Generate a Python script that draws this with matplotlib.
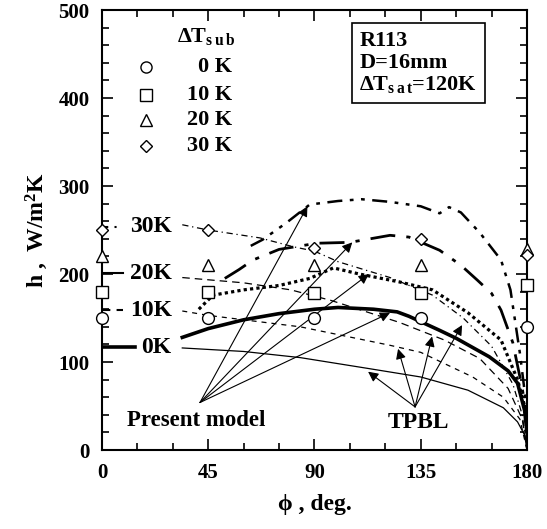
import matplotlib.pyplot as plt
from matplotlib.ticker import MultipleLocator

plt.rcParams['font.family'] = ['Liberation Serif', 'DejaVu Serif']
plt.rcParams['font.weight'] = 'bold'
plt.rcParams['axes.labelweight'] = 'bold'
plt.rcParams['mathtext.fontset'] = 'custom'
plt.rcParams['mathtext.rm'] = 'Liberation Serif:bold'
plt.rcParams['mathtext.it'] = 'Liberation Serif:bold'
plt.rcParams['mathtext.bf'] = 'Liberation Serif:bold'

# experimental points
phi_exp = [0, 45, 90, 135, 180]
h_exp_0 = [150, 150, 150, 150, 140]
h_exp_10 = [180, 180, 178, 178, 188]
h_exp_20 = [220, 210, 210, 210, 228]
h_exp_30 = [250, 250, 230, 240, 222]

# present model
pm0_phi = [34, 45, 60, 75, 90, 100, 115, 125, 130, 143, 150, 164, 172, 176, 179, 180]
pm0_h = [128, 138, 148, 155, 160, 162, 160, 157, 152, 136, 127, 106, 90, 76, 45, 20]
pm10_phi = [41, 47, 60, 75, 88, 98, 109, 126, 140, 155, 169, 176, 179, 180]
pm10_h = [160, 176, 182, 187, 195, 207, 200, 191, 182, 156, 125, 80, 50, 30]
pm20_phi = [52, 58, 64, 75, 91, 105, 122, 130, 143, 152, 159, 165, 169, 174, 178, 180]
pm20_h = [195, 205, 216, 228, 235, 236, 244, 242, 227, 210, 193, 178, 159, 122, 70, 35]
pm30_phi = [63, 68, 78, 88, 100, 110, 122, 135, 143, 147, 152, 160, 169, 173, 177, 180]
pm30_h = [232, 239, 258, 279, 283, 285, 282, 277, 269, 276, 270, 247, 216, 182, 110, 45]

# TPBL
tp0_phi = [34, 60, 84, 112, 135, 155, 170, 176, 179, 180]
tp0_h = [116, 112, 105, 93, 83, 68, 48, 32, 17, 0]
tp10_phi = [34, 45, 84, 122, 135, 157, 170, 177, 180]
tp10_h = [158, 153, 140, 119, 111, 83, 60, 35, 0]
tp20_phi = [34, 60, 80, 97, 126, 145, 160, 172, 178, 180]
tp20_h = [196, 190, 182, 170, 145, 125, 104, 70, 35, 0]
tp30_phi = [34, 45, 67, 81, 90, 100, 122, 140, 153, 165, 174, 178, 180]
tp30_h = [256, 250, 241, 231, 226, 214, 196, 176, 150, 118, 75, 40, 0]

legend_labels = ['0 K', '10 K', '20 K', '30 K']
curve_labels = ['0K', '10K', '20K', '30K']
label_h = [117, 159, 201, 254]

fig = plt.figure(figsize=(5.47, 5.29), dpi=100)
ax = fig.add_axes([0.1865, 0.1493, 0.7769, 0.8317])

thin = 0.9
ax.plot(tp0_phi, tp0_h, color='k', lw=thin)
ax.plot(tp10_phi, tp10_h, color='k', lw=thin, dashes=(4, 4))
ax.plot(tp20_phi, tp20_h, color='k', lw=thin, dashes=(6, 4))
ax.plot(tp30_phi, tp30_h, color='k', lw=thin, dashes=(5, 3, 1, 3))

ax.plot(pm0_phi, pm0_h, color='k', lw=2.6)
ax.plot(pm10_phi, pm10_h, color='k', lw=2.3, dashes=(1, 1))
ax.plot(pm20_phi, pm20_h, color='k', lw=2.0, dashes=(9, 4, 1.5, 4))
ax.plot(pm30_phi, pm30_h, color='k', lw=1.8, dashes=(6, 3, 1.5, 3, 1.5, 3))

mk = dict(color='k', mfc='white', mec='k', ls='none', mew=1.0, clip_on=False, zorder=5)
ax.plot(phi_exp, h_exp_0, marker='o', ms=8.5, **mk)
ax.plot(phi_exp, h_exp_10, marker='s', ms=8, **mk)
ax.plot(phi_exp, h_exp_20, marker='^', ms=8, **mk)
ax.plot(phi_exp, h_exp_30, marker='D', ms=6.5, **mk)

# legend
leg_y = [435, 404, 375, 346]
markers = ['o', 's', '^', 'D']
ax.text(44, 470, r'$\Delta$T$_{\rm s\,u\,b}$', fontsize=16, ha='center', va='center')
for m, lab, y in zip(markers, legend_labels, leg_y):
    ax.plot([18.6], [y], marker=m, mfc='white', mec='k', ms=8 if m != 'D' else 6.5, mew=1.0, ls='none')
    ax.text(55, y, lab, fontsize=16, ha='right', va='center')

# box
ax.text(109, 476, 'R113\nD=16mm\n' + r'$\Delta$T$_{\rm s\,a\,t}$=120K', fontsize=16,
        ha='left', va='top', linespacing=1.1,
        bbox=dict(boxstyle='square,pad=0.35', fc='white', ec='k', lw=1.2))

# curve labels on the left
ax.plot([0, 8], [label_h[3], label_h[3]], color='k', lw=1.5, dashes=(3, 3, 1, 3))
ax.plot([0, 9], [label_h[2], label_h[2]], color='k', lw=1.5)
ax.plot([0, 9], [label_h[1], label_h[1]], color='k', lw=1.5, dashes=(4, 3))
ax.plot([0, 14], [label_h[0], label_h[0]], color='k', lw=2.6)
for lab, y in zip(curve_labels, label_h):
    ax.text(29.5, y, lab, fontsize=17, ha='right', va='center')

# arrows
ap = dict(arrowstyle='-|>', color='k', lw=0.8, mutation_scale=15, shrinkA=0, shrinkB=0)
pm_tip = (41.5, 54)
for tgt in [(87, 277), (106, 236), (113, 200), (122, 156)]:
    ax.annotate('', xy=tgt, xytext=pm_tip, arrowprops=ap)
ax.text(40, 33, 'Present model', fontsize=16.5, ha='center', va='center')

tp_tip = (132.6, 49)
for tgt in [(112.7, 89), (125.4, 115), (139.8, 129), (152.5, 142)]:
    ax.annotate('', xy=tgt, xytext=tp_tip, arrowprops=ap)
ax.text(134, 31, 'TPBL', fontsize=17, ha='center', va='center')

ax.set_xlim(0, 180)
ax.set_ylim(0, 500)
ax.xaxis.set_major_locator(MultipleLocator(45))
ax.xaxis.set_minor_locator(MultipleLocator(15))
ax.yaxis.set_major_locator(MultipleLocator(100))
ax.yaxis.set_minor_locator(MultipleLocator(20))
ax.tick_params(which='both', direction='in', top=True, right=True, labelsize=15, width=1.2)
ax.tick_params(which='major', length=8, pad=9)
ax.tick_params(which='minor', length=5)
for s in ax.spines.values():
    s.set_linewidth(1.5)

ax.set_xlabel('ϕ , deg.', fontsize=17, labelpad=8)
ax.set_ylabel(r'h ,  W/m$^{2}$K', fontsize=17, labelpad=6)

fig.savefig('out.png', dpi=100)
